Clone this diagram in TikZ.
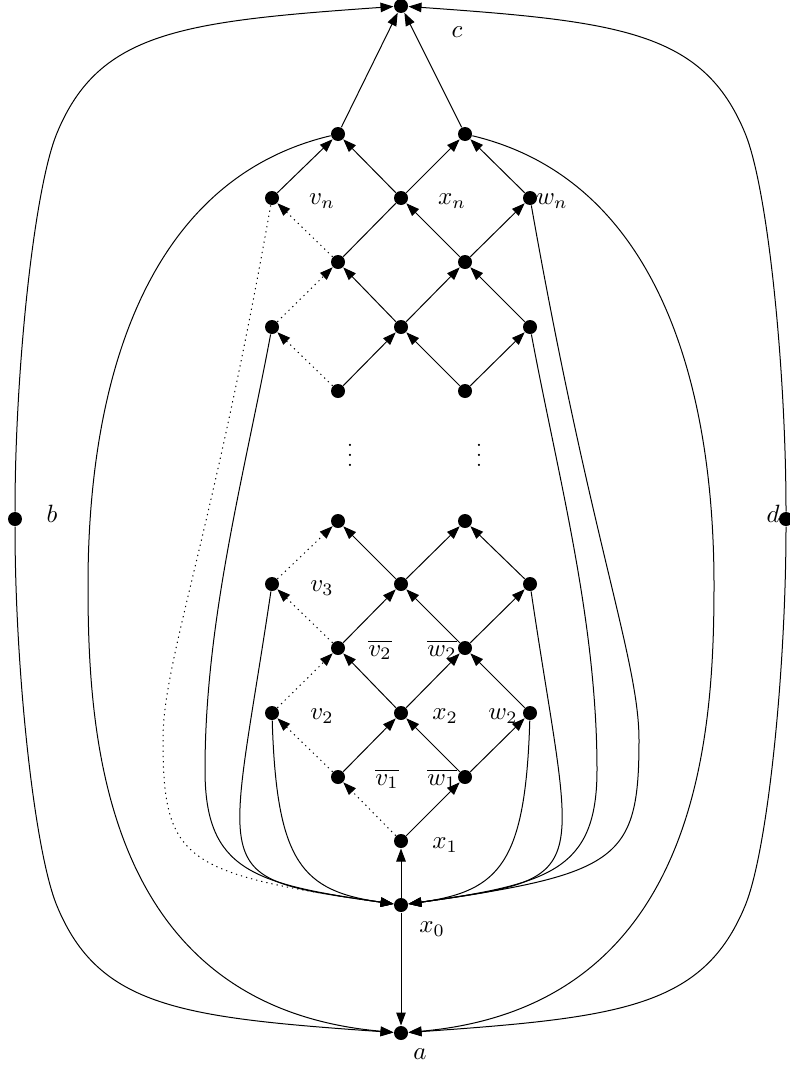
\documentclass[tikz,border=0pt]{standalone}
\usetikzlibrary{arrows.meta}
\begin{document}
\begin{tikzpicture}[x=0.4pt,y=-0.4pt,
  dot/.style={circle,fill=black,inner sep=0pt,minimum size=5.6pt},
  lbl/.style={inner sep=0pt},
  arr/.style={-{Triangle[length=5.2pt,width=3.8pt]}},
  dotl/.style={dash pattern=on 0.5pt off 1.6pt},
  line width=0.4pt]
\useasboundingbox (0,0) rectangle (789,1066);
% nodes
\node[dot] (c) at (401,6) {};
\node[dot] (t1) at (338,134) {};
\node[dot] (t2) at (465,134) {};
\node[dot] (vn) at (272,198) {};
\node[dot] (xn) at (401,198) {};
\node[dot] (wn) at (530,198) {};
\node[dot] (u1) at (338,262) {};
\node[dot] (u2) at (465,262) {};
\node[dot] (vk) at (272,327) {};
\node[dot] (xk) at (401,327) {};
\node[dot] (wk) at (530,327) {};
\node[dot] (s1) at (338,391) {};
\node[dot] (s2) at (465,391) {};
\node[dot] (r1) at (338,521) {};
\node[dot] (r2) at (465,521) {};
\node[dot] (v3) at (272,584) {};
\node[dot] (x3) at (401,584) {};
\node[dot] (w3) at (530,584) {};
\node[dot] (v2b) at (338,648) {};
\node[dot] (w2b) at (465,648) {};
\node[dot] (v2) at (272,713) {};
\node[dot] (x2) at (401,713) {};
\node[dot] (w2) at (530,713) {};
\node[dot] (v1b) at (338,777) {};
\node[dot] (w1b) at (465,777) {};
\node[dot] (x1) at (401,841) {};
\node[dot] (x0) at (401,905) {};
\node[dot] (a) at (401,1033) {};
\node[dot] (b) at (15,519) {};
\node[dot] (d) at (786,519) {};
% labels
\node[lbl] (lc) at (457,32) {$c$};
\node[lbl] (lvn) at (322,201) {$v_n$};
\node[lbl] (lxn) at (452,201) {$x_n$};
\node[lbl] (lwn) at (552,201) {$w_n$};
\node[lbl] (lv3) at (322,588) {$v_3$};
\node[lbl] (lv2b) at (380,650) {$\overline{v_2}$};
\node[lbl] (lw2b) at (442,650) {$\overline{w_2}$};
\node[lbl] (lv2) at (322,716) {$v_2$};
\node[lbl] (lx2) at (445,716) {$x_2$};
\node[lbl] (lw2) at (503,716) {$w_2$};
\node[lbl] (lv1b) at (387,779) {$\overline{v_1}$};
\node[lbl] (lw1b) at (442,779) {$\overline{w_1}$};
\node[lbl] (lx1) at (445,845) {$x_1$};
\node[lbl] (lx0) at (432,929) {$x_0$};
\node[lbl] (la) at (420,1054) {$a$};
\node[lbl] (lb) at (52,514) {$b$};
\node[lbl] (ld) at (773,514) {$d$};
\node[lbl,font=\footnotesize] (vd1) at (350,448) {$\vdots$};
\node[lbl,font=\footnotesize] (vd2) at (479,448) {$\vdots$};
% lattice edges
\draw[arr] (t1) -- (c);
\draw[arr] (t2) -- (c);
\draw[arr] (vn) -- (t1);
\draw[arr] (xn) -- (t1);
\draw[arr] (xn) -- (t2);
\draw[arr] (wn) -- (t2);
\draw[arr,dotl] (u1) -- (vn);
\draw (u1) -- (xn);
\draw[arr] (u2) -- (xn);
\draw[arr] (u2) -- (wn);
\draw[arr,dotl] (vk) -- (u1);
\draw[arr] (xk) -- (u1);
\draw[arr] (xk) -- (u2);
\draw[arr] (wk) -- (u2);
\draw[arr,dotl] (s1) -- (vk);
\draw[arr] (s1) -- (xk);
\draw[arr] (s2) -- (xk);
\draw[arr] (s2) -- (wk);
\draw[arr,dotl] (v3) -- (r1);
\draw[arr] (x3) -- (r1);
\draw[arr] (x3) -- (r2);
\draw[arr] (w3) -- (r2);
\draw[arr,dotl] (v2b) -- (v3);
\draw[arr] (v2b) -- (x3);
\draw[arr] (w2b) -- (x3);
\draw[arr] (w2b) -- (w3);
\draw[arr,dotl] (v2) -- (v2b);
\draw[arr] (x2) -- (v2b);
\draw[arr] (x2) -- (w2b);
\draw[arr] (w2) -- (w2b);
\draw[arr,dotl] (v1b) -- (v2);
\draw[arr] (v1b) -- (x2);
\draw[arr] (w1b) -- (x2);
\draw[arr] (w1b) -- (w2);
\draw[arr,dotl] (x1) -- (v1b);
\draw[arr] (x1) -- (w1b);
\draw[arr] (x0) -- (x1);
\draw[arr] (x0) -- (a);
% outer curves
\draw[arr] (b) .. controls (15,369) and (34.2,188) .. (57,133) .. controls (98.8,31.8) and (181,21.4) .. (c);
\draw[arr] (b) .. controls (15,670) and (34.2,851) .. (57,906) .. controls (98.8,1007.2) and (181,1017.6) .. (a);
\draw[arr] (d) .. controls (786,369) and (767.8,188) .. (745,133) .. controls (703.2,31.8) and (621,21.4) .. (c);
\draw[arr] (d) .. controls (786,670) and (767.8,851) .. (745,906) .. controls (703.2,1007.2) and (621,1017.6) .. (a);
% top to a
\draw[arr] (t1) .. controls (144,180) and (88,385) .. (88,585) .. controls (88,735) and (102,1006.6) .. (a);
\draw[arr] (t2) .. controls (658,180) and (714,385) .. (714,585) .. controls (714,735) and (700,1006.6) .. (a);
% curves to x0
\draw[arr] (v2) .. controls (276.5,863) and (302,891) .. (x0);
\draw[arr] (w2) .. controls (525.5,863) and (500,891) .. (x0);
\draw[arr] (v3) .. controls (227.9,881) and (203,877) .. (x0);
\draw[arr] (w3) .. controls (574.1,881) and (599,877) .. (x0);
\draw[arr] (vk) .. controls (244.4,474.5) and (205,620) .. (205,770) .. controls (205,870) and (252.5,884) .. (x0);
\draw[arr] (wk) .. controls (557.6,474.5) and (597,620) .. (597,770) .. controls (597,870) and (549.5,884) .. (x0);
\draw[arr,dotl] (vn) .. controls (211,543) and (163,660) .. (163,740) .. controls (163,860) and (183,874) .. (x0);
\draw[arr] (wn) .. controls (591,543) and (639,660) .. (639,740) .. controls (639,860) and (619,874) .. (x0);
\end{tikzpicture}
\end{document}
